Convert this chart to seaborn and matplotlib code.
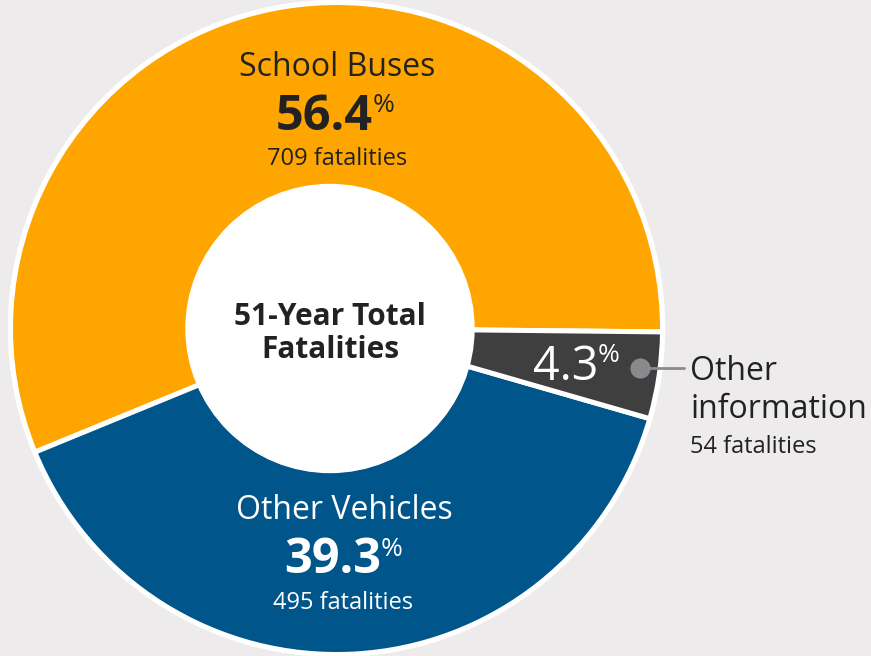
import matplotlib
matplotlib.use("Agg")
import matplotlib.pyplot as plt
import seaborn as sns

# data
labels = ["School Buses", "Other Vehicles", "Other information"]
fatalities = [709, 495, 54]
percents = ["56.4", "39.3", "4.3"]
colors = ["#FEA500", "#00558A", "#3F3F3F"]

bg = "#EDEBEC"
dark = "#222222"

sns.set_style("white")
plt.rcParams["font.family"] = ["Open Sans", "DejaVu Sans"]

fig = plt.figure(figsize=(8.71, 6.56), dpi=100, facecolor=bg)
ax = fig.add_axes([0, 0, 1, 1])
ax.set_facecolor(bg)

# work in pixel units (y negative downward)
cx, cy, r = 336.5, -328.5, 326

ax.add_patch(plt.Circle((cx, cy), r + 2, color="white", zorder=0))
ax.pie(fatalities, colors=colors, startangle=-0.6, counterclock=True,
       center=(cx, cy), radius=r,
       wedgeprops=dict(edgecolor="white", linewidth=3.6))
ax.add_patch(plt.Circle((330, -328.5), 144, color="white", zorder=5))

ax.set_xlim(0, 871)
ax.set_ylim(-656, 0)
ax.set_aspect("equal")
ax.axis("off")

# center title
ax.text(330, -325, "51-Year Total", ha="center", va="baseline",
        fontsize=21.5, fontweight="bold", color=dark, zorder=6)
ax.text(330, -358, "Fatalities", ha="center", va="baseline",
        fontsize=21.5, fontweight="bold", color=dark, zorder=6)

# school buses
ax.text(337, -76, labels[0], ha="center", va="baseline", fontsize=23, color=dark, zorder=6)
ax.text(373, -130, percents[0], ha="right", va="baseline", fontsize=35,
        fontweight="bold", color=dark, zorder=6)
ax.text(373, -112, "%", ha="left", va="baseline", fontsize=19, color=dark, zorder=6)
ax.text(337, -165, f"{fatalities[0]} fatalities", ha="center", va="baseline",
        fontsize=17, color=dark, zorder=6)

# other vehicles
ax.text(344, -519, labels[1], ha="center", va="baseline", fontsize=23, color="white", zorder=6)
ax.text(381, -573, percents[1], ha="right", va="baseline", fontsize=35,
        fontweight="bold", color="white", zorder=6)
ax.text(381, -556, "%", ha="left", va="baseline", fontsize=19, color="white", zorder=6)
ax.text(343, -609, f"{fatalities[1]} fatalities", ha="center", va="baseline",
        fontsize=17, color="white", zorder=6)

# other information
ax.text(598, -380, percents[2], ha="right", va="baseline", fontsize=33.5,
        color="white", zorder=6)
ax.text(598, -362, "%", ha="left", va="baseline", fontsize=19, color="white", zorder=6)
ax.plot([640, 684], [-368, -368], color="#8A8A8E", lw=2, zorder=6)
ax.scatter([640], [-368], s=210, color="#8A8A8E", zorder=7, linewidths=0)
ax.text(690, -380, "Other", ha="left", va="baseline", fontsize=23, color=dark, zorder=6)
ax.text(690, -418, "information", ha="left", va="baseline", fontsize=23, color=dark, zorder=6)
ax.text(690, -453, f"{fatalities[2]} fatalities", ha="left", va="baseline",
        fontsize=17, color=dark, zorder=6)

fig.savefig("out.png", dpi=100, facecolor=bg)
